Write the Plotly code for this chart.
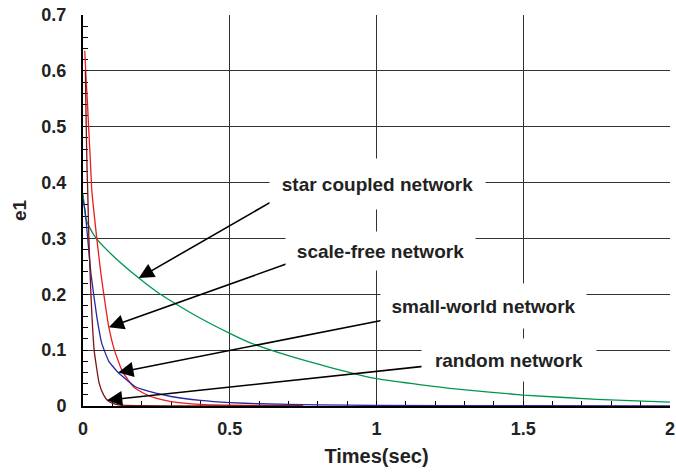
import plotly.graph_objects as go

# Error e1 over time for four network topologies
star_t = [0, 0.005, 0.01, 0.02, 0.045, 0.1, 0.19, 0.25, 0.3, 0.4, 0.5, 0.57,
          0.7, 0.85, 1.0, 1.25, 1.5, 1.75, 2.0]
star_e = [0.38, 0.355, 0.335, 0.322, 0.3, 0.27, 0.229, 0.205, 0.188, 0.157, 0.130,
          0.113, 0.09, 0.068, 0.049, 0.0315, 0.0196, 0.012, 0.007]

scale_t = [0.006, 0.01, 0.015, 0.02, 0.025, 0.03, 0.047, 0.061, 0.075, 0.088, 0.107,
           0.135, 0.173, 0.21, 0.248, 0.3, 0.4, 0.5, 0.6, 0.75]
scale_e = [0.636, 0.59, 0.545, 0.49, 0.44, 0.386, 0.3, 0.237, 0.185, 0.141, 0.1,
           0.061, 0.034, 0.022, 0.014, 0.008, 0.003, 0.0015, 0.0008, 0.0004]

small_t = [0, 0.007, 0.016, 0.027, 0.047, 0.064, 0.088, 0.12, 0.18, 0.248, 0.3,
           0.4, 0.5, 0.6, 0.8, 1.0, 1.5, 2.0]
small_e = [0.37, 0.35, 0.3, 0.237, 0.16, 0.112, 0.08, 0.06, 0.034, 0.023, 0.017,
           0.01, 0.006, 0.004, 0.002, 0.001, 0.0005, 0.0003]

rand_t = [0.008, 0.011, 0.014, 0.016, 0.02, 0.027, 0.038, 0.055, 0.07, 0.084, 0.1,
          0.12, 0.2, 0.4, 0.75]
rand_e = [0.6, 0.5, 0.42, 0.386, 0.3, 0.2, 0.1, 0.041, 0.02, 0.01, 0.005, 0.002,
          0.0005, 0.0001, 0.0]

# Axis tick labels
x_ticks = [0, 0.5, 1, 1.5, 2]
x_tick_text = ["0", "0.5", "1", "1.5", "2"]
y_ticks = [0, 0.1, 0.2, 0.3, 0.4, 0.5, 0.6, 0.7]
y_tick_text = ["0", "0.1", "0.2", "0.3", "0.4", "0.5", "0.6", "0.7"]

# Callouts: label text, arrow tip, arrow tail, label box centre and size
labels = ["star coupled network", "scale-free network", "small-world network", "random network"]
tip_t = [0.19, 0.088, 0.12, 0.082]
tip_e = [0.229, 0.141, 0.06, 0.0105]
tail_t = [0.658, 0.702, 1.026, 1.172]
tail_e = [0.3706, 0.256, 0.154, 0.0716]
box_t = [1.003, 1.014, 1.364, 1.451]
box_e = [0.398, 0.277, 0.179, 0.082]
box_w = [213, 187, 203, 172]
box_h = [48, 36, 42, 40]

font_family = "Liberation Sans, Arial, sans-serif"
ink = "#222222"

fig = go.Figure()
series = [
    (star_t, star_e, "rgb(0,150,80)"),
    (scale_t, scale_e, "rgb(235,30,30)"),
    (small_t, small_e, "rgb(40,40,165)"),
    (rand_t, rand_e, "rgb(125,20,20)"),
]
for t, e, c in series:
    fig.add_trace(go.Scatter(x=t, y=e, mode="lines",
                             line=dict(color=c, width=1.3, shape="spline", smoothing=0.4),
                             showlegend=False, hoverinfo="skip"))

annotations = []
for i, txt in enumerate(labels):
    annotations.append(dict(
        x=tip_t[i], y=tip_e[i], ax=tail_t[i], ay=tail_e[i],
        xref="x", yref="y", axref="x", ayref="y",
        text="", showarrow=True, arrowhead=2, arrowsize=1.9,
        arrowwidth=1.6, arrowcolor="black", standoff=0, startstandoff=0,
    ))
    annotations.append(dict(
        x=box_t[i], y=box_e[i], xref="x", yref="y",
        text=txt, showarrow=False, bgcolor="white",
        width=box_w[i], height=box_h[i], xanchor="center", yanchor="middle",
        font=dict(family=font_family, size=19, color=ink, weight="bold"),
    ))

fig.update_layout(
    width=676, height=475,
    margin=dict(l=83, r=6, t=15, b=69, autoexpand=False),
    paper_bgcolor="white", plot_bgcolor="white",
    annotations=annotations,
    font=dict(family=font_family, color=ink),
)
fig.update_xaxes(
    range=[0, 2], tickvals=x_ticks, ticktext=x_tick_text, automargin=False,
    showgrid=True, gridcolor="#333333", gridwidth=1, zeroline=False,
    showline=True, linecolor="black", linewidth=2,
    ticks="inside", ticklen=5, tickcolor="black",
    minor=dict(dtick=0.1, tick0=0, ticks="inside", ticklen=5, tickcolor="black", showgrid=False),
    tickfont=dict(family=font_family, size=18, color=ink, weight="bold"),
    ticklabelstandoff=5,
    title=dict(text="Times(sec)", standoff=11,
               font=dict(family=font_family, size=20, color=ink, weight="bold")),
    layer="below traces",
)
fig.update_yaxes(
    range=[0, 0.7], tickvals=y_ticks, ticktext=y_tick_text, automargin=False,
    showgrid=True, gridcolor="#333333", gridwidth=1, zeroline=False,
    showline=True, linecolor="black", linewidth=2,
    ticks="inside", ticklen=5, tickcolor="black",
    minor=dict(dtick=0.02, tick0=0, ticks="inside", ticklen=5, tickcolor="black", showgrid=False),
    tickfont=dict(family=font_family, size=18, color=ink, weight="bold"),
    ticklabelstandoff=11,
    title=dict(text="e1", standoff=10,
               font=dict(family=font_family, size=19, color=ink, weight="bold")),
    layer="below traces",
)

fig.write_html("out.html")
